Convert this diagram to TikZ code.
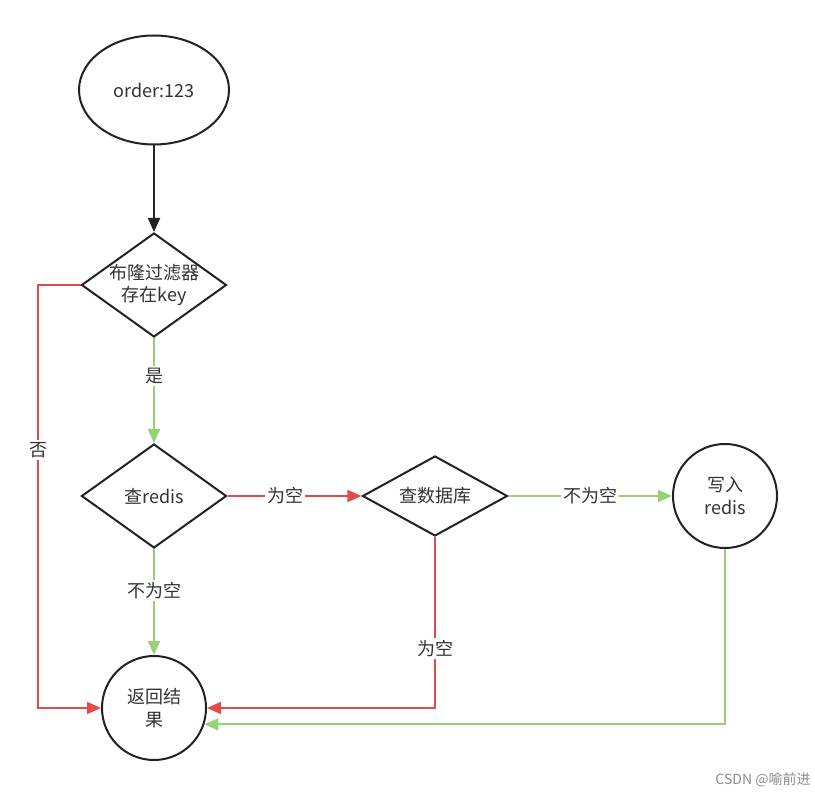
\documentclass[tikz,border=0pt]{standalone}
\usepackage{fontspec}
\setmainfont{Noto Sans CJK SC}
\usetikzlibrary{shapes.geometric,arrows.meta}
\definecolor{myred}{HTML}{E04B4B}
\definecolor{mygreen}{HTML}{97D077}
\definecolor{myblack}{HTML}{222222}
\definecolor{mytext}{HTML}{333333}
\begin{document}
\begin{tikzpicture}[x=0.75pt,y=-0.75pt,
  shp/.style={draw=myblack,line width=1.5pt,fill=white,inner sep=0pt,text=mytext,font=\fontsize{13.5}{17}\selectfont,align=center},
  dia/.style={shp,diamond,minimum width=145*0.75pt,minimum height=104*0.75pt},
  circ/.style={shp,circle,minimum size=104*0.75pt},
  lab/.style={fill=white,inner sep=1.5pt,text=mytext,font=\fontsize{13.5}{17}\selectfont},
  tip/.style={-{Triangle[length=10.5pt,width=9pt]}},
  blk/.style={draw=myblack,line width=1.5pt,tip},
  redl/.style={draw=myred,line width=1.5pt,tip},
  grnl/.style={draw=mygreen,line width=1.5pt,tip}]
\useasboundingbox (0,0) rectangle (815,798);
\node[shp,ellipse,minimum width=150*0.75pt,minimum height=109*0.75pt] (start) at (154,90) {order:123};
\node[dia,label={[shp,draw=none,fill=none]center:布隆过滤器\\存在key}] (d1) at (154,285) {};
\node[dia,label={[shp,draw=none,fill=none]center:查redis}] (d2) at (154,496) {};
\node[dia,minimum height=80*0.75pt,label={[shp,draw=none,fill=none]center:查数据库}] (d3) at (435,496) {};
\node[circ] (wr) at (725,496) {写入\\redis};
\node[circ] (res) at (154,708) {返回结\\果};
\path[blk] (start) -- (d1);
\path[redl] (d1.west) -- (38,285) -- node[lab,pos=0.39]{否} (38,708) -- (res.west);
\path[grnl] (d1) -- node[lab,pos=0.36]{是} (d2);
\path[redl] (d2) -- node[lab,pos=0.43]{为空} (d3);
\path[grnl] (d3) -- node[lab]{不为空} (wr);
\path[grnl] (d2) -- node[lab,pos=0.39]{不为空} (res);
\path[redl] (d3.south) |- node[lab,pos=0.326]{为空} (res.east);
\path[grnl] (wr.south) |- (res.-18);
\node[text=black!45,font=\fontsize{10.5}{12}\selectfont] (wm) at (763,780) {CSDN @喻前进};
\end{tikzpicture}
\end{document}
